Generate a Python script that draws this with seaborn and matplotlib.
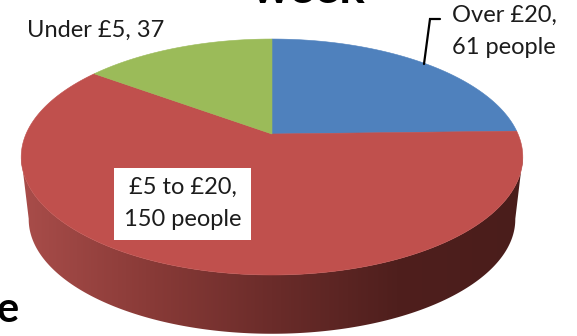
import numpy as np
import matplotlib
matplotlib.use("Agg")
import matplotlib.pyplot as plt
from matplotlib.colors import LinearSegmentedColormap
from matplotlib.patches import Polygon, Rectangle
import seaborn as sns

categories = ["Over £20", "£5 to £20", "Under £5"]
values = [61, 150, 37]
colors = ["#4F81BD", "#C0504D", "#9BBB59"]
wall_colors = ["#A94D4A", "#8A3B38", "#6B2C2A", "#4F1F1D", "#4A1D1B"]

sns.set_theme(style="white")
plt.rcParams["font.family"] = ["Lato", "DejaVu Sans"]

W, H = 577, 336
fig = plt.figure(figsize=(W / 100, H / 100), dpi=100)
ax = fig.add_axes([0, 0, 1, 1])
wedges, _ = ax.pie(values, colors=colors, startangle=90, counterclock=False)

CX, CY, A, B, K = 272, 134, 246, 113.5, 0.195


def project(x, y):
    w = 1 + K * y
    return CX + A * x / w, CY - B * y / w


def lower(sx, sy):
    return CX + 0.97 * (sx - CX), CY + 0.97 * (sy - CY) + 63


ax.set_aspect("auto")
ax.set_xlim(0, W)
ax.set_ylim(H, 0)
ax.axis("off")

# side wall with gradient
t = np.radians(np.linspace(191, 349, 300))
tx, ty = project(np.cos(t), np.sin(t))
bx, by = lower(tx, ty)
outline = np.vstack([np.c_[tx, ty], np.c_[bx, by][::-1]])
cmap = LinearSegmentedColormap.from_list("wall", wall_colors)
img = ax.imshow(np.linspace(0, 1, 256)[None, :], extent=(20, 523, 340, 130),
                cmap=cmap, aspect="auto", zorder=1)
clip = Polygon(outline, closed=True, transform=ax.transData, fc="none", ec="none")
ax.add_patch(clip)
img.set_clip_path(clip)
ax.set_xlim(0, W)
ax.set_ylim(H, 0)

# top faces: pie wedges projected in perspective
for w in wedges:
    th = np.radians(np.linspace(w.theta1, w.theta2, 200))
    px, py = project(w.r * np.cos(th), w.r * np.sin(th))
    ox, oy = project(*w.center)
    poly = Polygon(np.vstack([[ox, oy], np.c_[px, py]]), closed=True,
                   fc=w.get_facecolor(), ec=w.get_facecolor(), lw=0.4, zorder=2)
    w.remove()
    ax.add_patch(poly)

TXT = "#1c1c1c"
fs = 17
ax.text(27, 30, f"{categories[2]}, {values[2]}", fontsize=fs, color=TXT,
        ha="left", va="center", zorder=4)
ax.text(452, 15, f"{categories[0]},", fontsize=fs, color=TXT, ha="left", va="center", zorder=4)
ax.text(452, 47, f"{values[0]} people", fontsize=fs, color=TXT, ha="left", va="center", zorder=4)
ax.add_patch(Rectangle((114, 168), 137, 72, fc="white", ec="none", zorder=3))
ax.text(182.5, 187, f"{categories[1]},", fontsize=fs, color=TXT, ha="center", va="center", zorder=4)
ax.text(182.5, 220, f"{values[1]} people", fontsize=fs, color=TXT, ha="center", va="center", zorder=4)

# leader line
ax.plot([424, 430, 440], [64, 19, 19], color="black", lw=1.6, zorder=4,
        solid_joinstyle="miter")

# clipped remnants of surrounding slide text
ax.text(308, 3, "week", fontsize=34, fontweight="bold", color="black",
        ha="center", va="baseline", zorder=4)
ax.text(-3, 322, "e", fontsize=30, fontweight="bold", color="black",
        ha="left", va="baseline", zorder=4)

fig.savefig("out.png", dpi=100, facecolor="white")
